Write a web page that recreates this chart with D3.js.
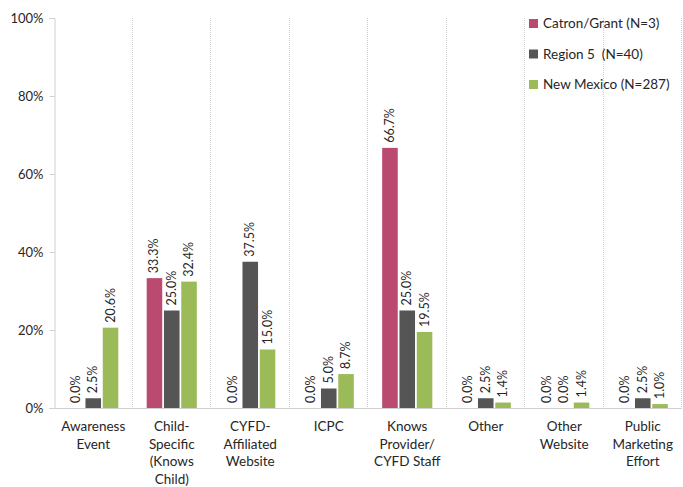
<!DOCTYPE html>
<html>
<head>
<meta charset="utf-8">
<script src="https://cdn.jsdelivr.net/npm/d3@7"></script>
<style>
  body { margin: 0; background: #fff; }
  text { font-family: Lato, "Open Sans", sans-serif; fill: #262626; }
</style>
</head>
<body>
<div id="chart"></div>
<script>
const categories = [
  ['Awareness', 'Event'],
  ['Child-', 'Specific', '(Knows', 'Child)'],
  ['CYFD-', 'Affiliated', 'Website'],
  ['ICPC'],
  ['Knows', 'Provider/', 'CYFD Staff'],
  ['Other'],
  ['Other', 'Website'],
  ['Public', 'Marketing', 'Effort']
];
const seriesNames = ['Catron/Grant (N=3)', 'Region 5  (N=40)', 'New Mexico (N=287)'];
const catronGrant = [0.0, 33.3, 0.0, 0.0, 66.7, 0.0, 0.0, 0.0];
const region5 = [2.5, 25.0, 37.5, 5.0, 25.0, 2.5, 0.0, 2.5];
const newMexico = [20.6, 32.4, 15.0, 8.7, 19.5, 1.4, 1.4, 1.0];
const yTicks = [0, 20, 40, 60, 80, 100];
const colors = ['#BA4A70', '#555555', '#9BBB59'];

const series = [catronGrant, region5, newMexico];
const width = 683, height = 487;
const margin = { top: 18, right: 1, bottom: 79, left: 54 };

const svg = d3.select('#chart').append('svg')
  .attr('width', width)
  .attr('height', height);

const x = d3.scaleBand()
  .domain(d3.range(categories.length))
  .range([margin.left, width - margin.right])
  .paddingInner(0)
  .paddingOuter(0);

const xInner = d3.scaleBand()
  .domain(d3.range(series.length))
  .range([0, x.bandwidth()])
  .paddingInner(0.1)
  .paddingOuter(0.82);

const y = d3.scaleLinear()
  .domain([0, 100])
  .range([height - margin.bottom, margin.top]);

/* vertical separators between categories */
svg.append('g')
  .selectAll('line')
  .data(d3.range(1, categories.length + 1))
  .join('line')
  .attr('x1', (d) => Math.round(x(d - 1) + x.bandwidth()) - 0.5)
  .attr('x2', (d) => Math.round(x(d - 1) + x.bandwidth()) - 0.5)
  .attr('y1', y(100))
  .attr('y2', y(0))
  .attr('stroke', '#cfcfcf')
  .attr('stroke-dasharray', '1,1');

/* y axis */
const yAxis = svg.append('g')
  .attr('transform', `translate(${margin.left + 0.5},0)`)
  .call(d3.axisLeft(y).tickValues(yTicks).tickSize(5).tickPadding(6).tickFormat((d) => d + '%'));
yAxis.select('.domain').attr('stroke', '#d0d0d0');
yAxis.selectAll('.tick line').attr('stroke', '#d0d0d0');
yAxis.selectAll('.tick text')
  .attr('font-size', 13)
  .attr('font-family', 'Lato, sans-serif')
  .attr('fill', '#262626');

/* baseline */
svg.append('line')
  .attr('x1', margin.left)
  .attr('x2', width - margin.right)
  .attr('y1', Math.round(y(0)) + 0.5)
  .attr('y2', Math.round(y(0)) + 0.5)
  .attr('stroke', '#d0d0d0');

/* bars */
const groups = svg.append('g')
  .selectAll('g')
  .data(categories)
  .join('g')
  .attr('transform', (d, i) => `translate(${x(i)},0)`);

groups.selectAll('rect')
  .data((d, i) => series.map((s, j) => ({ s: j, v: s[i] })))
  .join('rect')
  .attr('x', (d) => xInner(d.s))
  .attr('width', xInner.bandwidth())
  .attr('y', (d) => y(d.v))
  .attr('height', (d) => y(0) - y(d.v))
  .attr('fill', (d) => colors[d.s]);

/* rotated data labels */
groups.selectAll('text.lbl')
  .data((d, i) => series.map((s, j) => ({ s: j, v: s[i] })))
  .join('text')
  .attr('class', 'lbl')
  .attr('transform', (d) => `translate(${xInner(d.s) + xInner.bandwidth() / 2 + 4},${y(d.v) - 5}) rotate(-90)`)
  .attr('font-size', 12.5)
  .text((d) => d.v.toFixed(1) + '%');

/* category labels */
groups.append('text')
  .attr('text-anchor', 'middle')
  .attr('font-size', 13.5)
  .attr('y', y(0) + 23)
  .selectAll('tspan')
  .data((d) => d)
  .join('tspan')
  .attr('x', x.bandwidth() / 2)
  .attr('dy', (d, i) => (i === 0 ? 0 : 17.5))
  .text((d) => d);

/* legend */
const legend = svg.append('g')
  .attr('transform', 'translate(529,19)');
const items = legend.selectAll('g')
  .data(seriesNames)
  .join('g')
  .attr('transform', (d, i) => `translate(0,${i * 30.5})`);
items.append('rect')
  .attr('width', 9)
  .attr('height', 9)
  .attr('fill', (d, i) => colors[i]);
items.append('text')
  .attr('x', 14)
  .attr('y', 9)
  .attr('font-size', 13.5)
  .style('white-space', 'pre')
  .text((d) => d);
</script>
</body>
</html>
